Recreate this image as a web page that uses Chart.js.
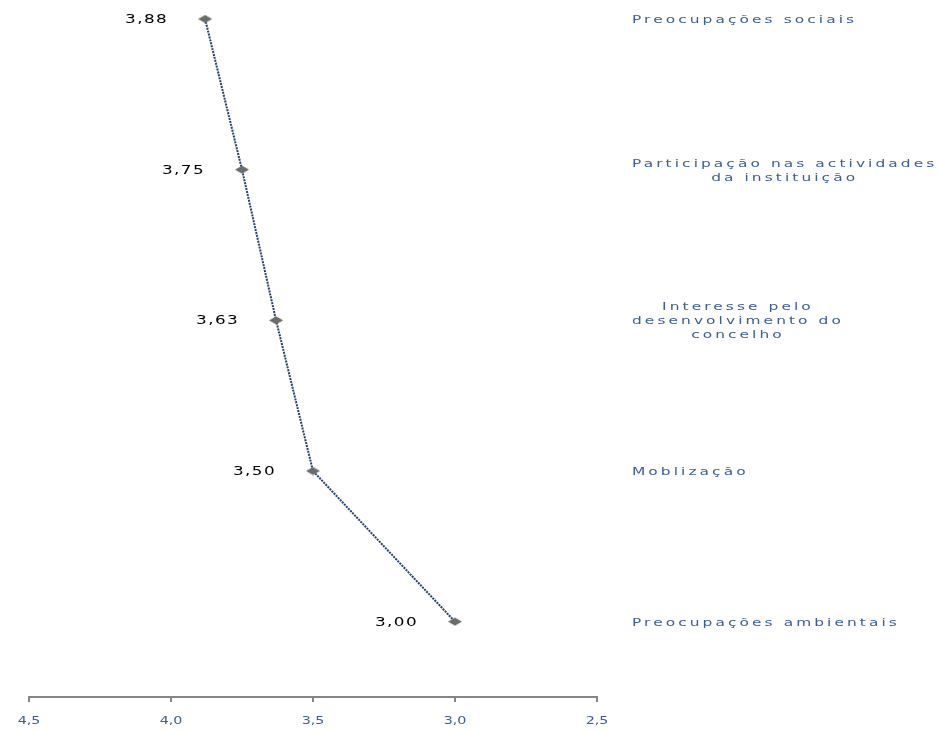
<!DOCTYPE html>
<html>
<head>
<meta charset="utf-8">
<script src="https://cdn.jsdelivr.net/npm/chart.js@4/dist/chart.umd.min.js"></script>
<style>
  body { margin: 0; background: #fff; }
  #wrap { width: 941px; height: 731px; }
</style>
</head>
<body>
<div id="wrap"><canvas id="myChart"></canvas></div>
<script>
// categories, top to bottom
const categories = [
    ['Preocupações sociais'],
    ['Participação nas actividades', 'da instituição'],
    ['Interesse pelo', 'desenvolvimento do', 'concelho'],
    ['Moblização'],
    ['Preocupações ambientais']
];
const values = [3.88, 3.75, 3.63, 3.50, 3.00];
const xTicks = [4.5, 4.0, 3.5, 3.0, 2.5];

const labelBlue = '#3b5f93';

function fmt(v, d) {
    return v.toFixed(d).replace('.', ',');
}

// point list: x = value, y = category index
const points = values.map((v, i) => ({ x: v, y: i }));

// flat diamond marker
const marker = document.createElement('canvas');
marker.width = 14; marker.height = 9;
(function () {
    const c = marker.getContext('2d');
    c.fillStyle = '#6b6b6b';
    c.beginPath();
    c.moveTo(0, 4.5); c.lineTo(7, 0.5); c.lineTo(14, 4.5); c.lineTo(7, 8.5);
    c.closePath();
    c.fill();
})();

// text drawn with a horizontal stretch (the picture's text is wide)
function wideText(ctx, text, x, y, align, sx) {
    const w = ctx.measureText(text).width * sx;
    let left = x;
    if (align === 'center') left = x - w / 2;
    if (align === 'right') left = x - w;
    ctx.save();
    ctx.translate(left, y);
    ctx.scale(sx, 1);
    ctx.textAlign = 'left';
    ctx.fillText(text, 0, 0);
    ctx.restore();
}

const labelPlugin = {
    id: 'labelPlugin',
    afterDatasetsDraw(chart) {
        const ctx = chart.ctx;
        const xs = chart.scales.x, ys = chart.scales.y;
        ctx.save();
        ctx.textBaseline = 'middle';

        // value labels
        ctx.font = '12px "DejaVu Sans"';
        ctx.letterSpacing = '1px';
        ctx.fillStyle = '#000';
        values.forEach((v, i) => {
            wideText(ctx, fmt(v, 2), xs.getPixelForValue(v) - 37, ys.getPixelForValue(i) + 1, 'right', 1.4);
        });

        // x tick labels
        ctx.font = '11px "DejaVu Sans"';
        ctx.letterSpacing = '0px';
        ctx.fillStyle = labelBlue;
        xTicks.forEach(t => {
            wideText(ctx, fmt(t, 1), xs.getPixelForValue(t), xs.bottom - 10, 'center', 1.3);
        });

        // category labels
        ctx.letterSpacing = '2.2px';
        const left = 632, lineH = 14;
        categories.forEach((lines, i) => {
            let w = 0;
            lines.forEach(l => { w = Math.max(w, ctx.measureText(l).width * 1.4); });
            const cy = ys.getPixelForValue(i) + 1;
            const top = cy - (lines.length - 1) * lineH / 2;
            lines.forEach((l, k) => {
                wideText(ctx, l, left + w / 2, top + k * lineH, 'center', 1.4);
            });
        });
        ctx.restore();
    }
};

const data = {
    datasets: [{
        data: points,
        borderColor: '#243f6b',
        borderWidth: 2,
        borderDash: [2, 1],
        pointStyle: marker,
        pointRadius: 6,
        clip: false,
        tension: 0
    }]
};

const config = {
    type: 'line',
    data: data,
    options: {
        responsive: true,
        maintainAspectRatio: false,
        animation: false,
        layout: { padding: { left: 29, right: 344, top: 19, bottom: 0 } },
        plugins: {
            legend: { display: false },
            tooltip: { enabled: false }
        },
        scales: {
            x: {
                type: 'linear',
                reverse: true,
                min: 2.5,
                max: 4.5,
                afterBuildTicks(scale) {
                    scale.ticks = xTicks.map(v => ({ value: v }));
                },
                afterFit(scale) {
                    scale.height = 34;
                },
                border: { display: true, color: '#868686', width: 2 },
                grid: { drawOnChartArea: false, drawTicks: true, tickLength: 5, color: '#868686', lineWidth: 2 },
                ticks: { display: false }
            },
            y: {
                type: 'linear',
                display: false,
                reverse: true,
                min: 0,
                max: 4.5
            }
        }
    },
    plugins: [labelPlugin]
};

var myChartJS = new Chart(document.getElementById('myChart'), config);
</script>
</body>
</html>
